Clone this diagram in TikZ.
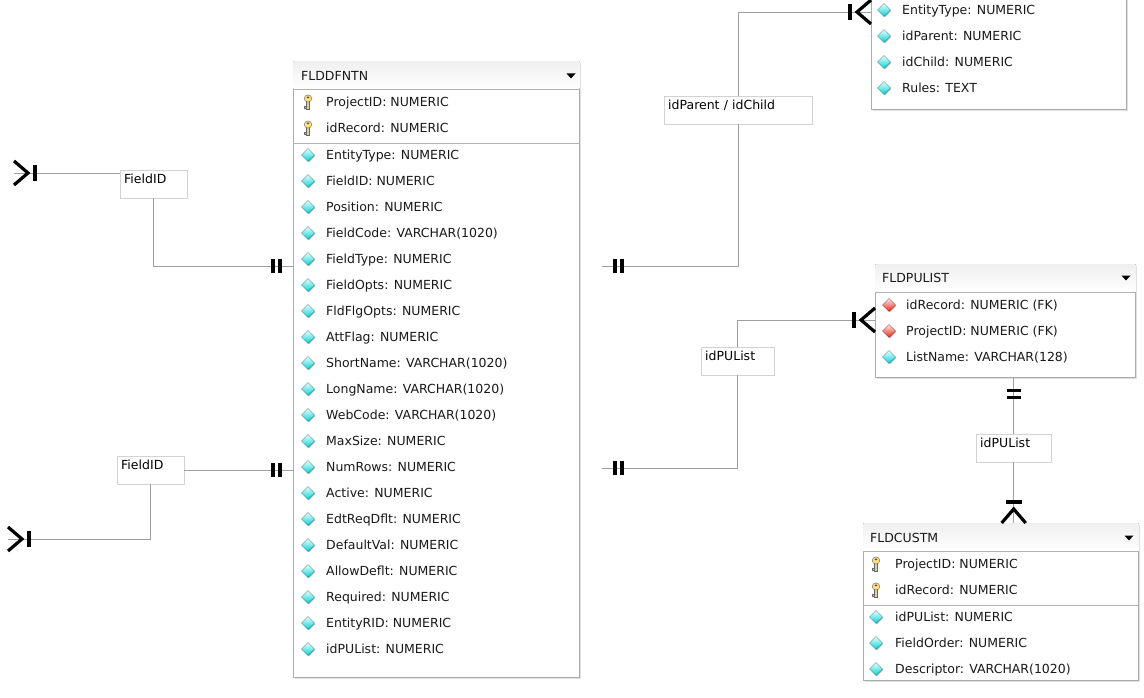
\documentclass[tikz,border=0pt]{standalone}
\usepackage{fontspec}
\setmainfont{DejaVu Sans}
\usepackage{tikz}
\usetikzlibrary{positioning}
\usetikzlibrary{shapes,calc,shadows}

\tikzset{
    tbl/.style={draw=gray!65, fill=white, line width=0.8pt, anchor=north west, inner sep=0pt,
        drop shadow={shadow xshift=1.5pt, shadow yshift=-1.5pt, opacity=0.25, fill=gray}},
    fld/.style={anchor=west, inner sep=0pt, text height=9pt, text depth=0pt, text=black!90,
        font=\fontsize{12.5}{14}\selectfont},
    lbl/.style={draw=gray!35, fill=white, anchor=north west, inner xsep=4pt, inner ysep=2pt,
        text height=11pt, text depth=13pt, align=left, font=\fontsize{12.5}{14}\selectfont},
    conn/.style={draw=gray!75, line width=0.8pt},
    sepline/.style={draw=gray!60, line width=0.8pt},
    hdr/.style={top color=gray!12, bottom color=white},
    foot/.style={line width=3.2pt, black},
    crowfoot/.pic={\draw[foot] (0,12pt) -- (-14pt,0) -- (0,-12pt); \draw[foot] (-21pt,8pt) -- (-21pt,-8pt);},
    onebar/.pic={\draw[foot] (-13pt,7pt) -- (-13pt,-7pt) (-20pt,7pt) -- (-20pt,-7pt);},
    menu/.pic={\fill (-4.5pt,2.5pt) -- (4.5pt,2.5pt) -- (0,-2.5pt) -- cycle;},
    gem/.pic={\fill[black!30] (1pt,5pt) -- (7pt,-1pt) -- (1pt,-7pt) -- (-5pt,-1pt) -- cycle;
        \shade[top color=cyan!8, bottom color=cyan!65!teal, draw=teal!70!black, line width=0.3pt]
            (0,6.5pt) -- (6.5pt,0) -- (0,-6.5pt) -- (-6.5pt,0) -- cycle;},
    fkgem/.pic={\fill[black!30] (1pt,5pt) -- (7pt,-1pt) -- (1pt,-7pt) -- (-5pt,-1pt) -- cycle;
        \shade[top color=red!10, bottom color=red!70!brown, draw=red!40!black, line width=0.3pt]
            (0,6.5pt) -- (6.5pt,0) -- (0,-6.5pt) -- (-6.5pt,0) -- cycle;},
    pkey/.pic={\draw[black!60, fill=yellow!40!gray!60, line width=0.4pt] (-1.6pt,1pt) rectangle (1.6pt,-7.5pt);
        \draw[black!60, fill=yellow!40!gray!60, line width=0.4pt] (-1.6pt,-4pt) -- (-3.4pt,-4pt) -- (-3.4pt,-6pt) -- (-1.6pt,-6pt);
        \draw[black!60, fill=yellow!55!orange!50, line width=0.4pt] (0,3.5pt) ellipse (3.8pt and 3.6pt);
        \fill[black!65] (0,4.6pt) ellipse (1.5pt and 1pt);}
}

\begin{document}
\begin{tikzpicture}[x=1pt, y=-1pt]
    \useasboundingbox (0,0) rectangle (1144,698);
    \fill[white] (0,0) rectangle (1144,698);
    \clip (0,0) rectangle (1144,698);

    % FLDDFNTN
    \node[tbl, minimum width=286pt, minimum height=616pt] (dfn) at (293,61) {};
    \shade[hdr] ($(dfn.north west)+(0.5pt,-0.5pt)$) rectangle ($(dfn.east |- 0,89)+(-0.5pt,0)$);
    \draw[sepline] (dfn.west |- 0,89) -- (dfn.east |- 0,89);
    \node[fld] (dfnT) at (301,76) {FLDDFNTN};
    \pic at (571,76) {menu};
    \foreach \f [count=\i] in {ProjectID: NUMERIC, idRecord: NUMERIC}{
        \pgfmathsetmacro{\y}{76+26*\i}
        \pic at (308,\y) {pkey};
        \node[fld] (dfnk\i) at (326,\y) {\f};
    }
    \draw[sepline] (dfn.west |- 0,143) -- (dfn.east |- 0,143);
    \foreach \f [count=\i] in {EntityType: NUMERIC, FieldID: NUMERIC, Position: NUMERIC,
        FieldCode: VARCHAR(1020), FieldType: NUMERIC, FieldOpts: NUMERIC, FldFlgOpts: NUMERIC,
        AttFlag: NUMERIC, ShortName: VARCHAR(1020), LongName: VARCHAR(1020), WebCode: VARCHAR(1020),
        MaxSize: NUMERIC, NumRows: NUMERIC, Active: NUMERIC, EdtReqDflt: NUMERIC, DefaultVal: NUMERIC,
        AllowDeflt: NUMERIC, Required: NUMERIC, EntityRID: NUMERIC, idPUList: NUMERIC}{
        \pgfmathsetmacro{\y}{129+26*\i}
        \pic at (308,\y) {gem};
        \node[fld] (dfn\i) at (326,\y) {\f};
    }

    % table cut off at the top
    \node[tbl, minimum width=255pt, minimum height=170pt] (rel) at (871,-61) {};
    \foreach \f [count=\i] in {EntityType: NUMERIC, idParent: NUMERIC, idChild: NUMERIC, Rules: TEXT}{
        \pgfmathsetmacro{\y}{-16+26*\i}
        \pic at (884,\y) {gem};
        \node[fld] (rel\i) at (902,\y) {\f};
    }

    % FLDPULIST
    \node[tbl, minimum width=260pt, minimum height=113pt] (pul) at (875,264) {};
    \shade[hdr] ($(pul.north west)+(0.5pt,-0.5pt)$) rectangle ($(pul.east |- 0,292)+(-0.5pt,0)$);
    \draw[sepline] (pul.west |- 0,292) -- (pul.east |- 0,292);
    \node[fld] (pulT) at (882,278) {FLDPULIST};
    \pic at (1126,278) {menu};
    \foreach \f/\g [count=\i] in {idRecord: NUMERIC (FK)/fkgem, ProjectID: NUMERIC (FK)/fkgem, ListName: VARCHAR(128)/gem}{
        \pgfmathsetmacro{\y}{279+26*\i}
        \pic at (889,\y) {\g};
        \node[fld] (pul\i) at (906,\y) {\f};
    }

    % FLDCUSTM
    \node[tbl, minimum width=275pt, minimum height=157pt] (cus) at (863,523) {};
    \shade[hdr] ($(cus.north west)+(0.5pt,-0.5pt)$) rectangle ($(cus.east |- 0,551)+(-0.5pt,0)$);
    \draw[sepline] (cus.west |- 0,551) -- (cus.east |- 0,551);
    \node[fld] (cusT) at (870,538) {FLDCUSTM};
    \pic at (1129,538) {menu};
    \foreach \f [count=\i] in {ProjectID: NUMERIC, idRecord: NUMERIC}{
        \pgfmathsetmacro{\y}{538+26*\i}
        \pic at (876,\y) {pkey};
        \node[fld] (cusk\i) at (895,\y) {\f};
    }
    \draw[sepline] (cus.west |- 0,605) -- (cus.east |- 0,605);
    \foreach \f [count=\i] in {idPUList: NUMERIC, FieldOrder: NUMERIC, Descriptor: VARCHAR(1020)}{
        \pgfmathsetmacro{\y}{591+26*\i}
        \pic at (876,\y) {gem};
        \node[fld] (cus\i) at (895,\y) {\f};
    }

    % relationship labels
    \node[lbl, text width=59pt] (lf1) at (120,170) {FieldID};
    \node[lbl, text width=59pt] (lf2) at (117,456) {FieldID};
    \node[lbl, text width=140pt] (lpar) at (664,96) {idParent / idChild};
    \node[lbl, text width=65pt] (lpu1) at (701,347) {idPUList};
    \node[lbl, text width=67pt] (lpu2) at (976,434) {idPUList};

    % line ends
    \coordinate (ftop) at (14,173); % table off the left edge
    \coordinate (fbot) at (8,539);
    \coordinate (dfnA) at (dfn.west |- 0,266);
    \coordinate (dfnB) at (dfn.west |- lf2.east);
    \coordinate (dfnC) at (602,266);
    \coordinate (dfnD) at (602,468);
    \coordinate (relA) at (rel.west |- 0,12);
    \coordinate (pulA) at (pul.west |- 0,320);
    \coordinate (pulB) at (pul.south -| lpu2.north);
    \coordinate (cusA) at (cus.north -| lpu2.south);

    \draw[conn] (ftop) -- (ftop -| lf1.west);
    \draw[conn] (lf1.south) |- (dfnA);
    \draw[conn] (fbot) -| (lf2.south);
    \draw[conn] (lf2.east) -- (dfnB);
    \draw[conn] (dfnC) -| (lpar.south);
    \draw[conn] (lpar.north) |- (relA);
    \draw[conn] (dfnD) -| (lpu1.south);
    \draw[conn] (lpu1.north) |- (pulA);
    \draw[conn] (pulB) -- (lpu2.north);
    \draw[conn] (lpu2.south) -- (cusA);

    \pic[rotate=180] at (ftop) {crowfoot};
    \pic[rotate=180] at (fbot) {crowfoot};
    \pic at (dfnA) {onebar};
    \pic at (dfnB) {onebar};
    \pic[rotate=180] at (dfnC) {onebar};
    \pic[rotate=180] at (dfnD) {onebar};
    \pic at (relA) {crowfoot};
    \pic at (pulA) {crowfoot};
    \pic[rotate=90] at (pulB) {onebar};
    \pic[rotate=-90] at (cusA) {crowfoot};
\end{tikzpicture}
\end{document}
